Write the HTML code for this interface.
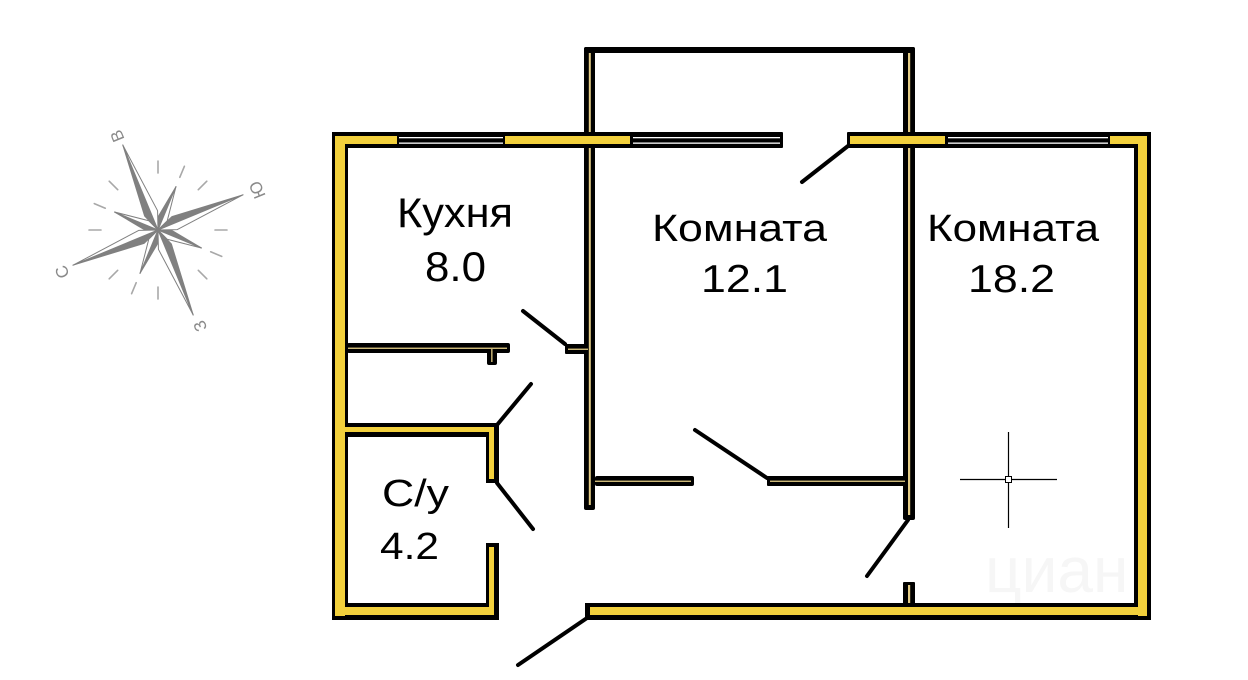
<!DOCTYPE html>
<html><head><meta charset="utf-8">
<style>html,body{margin:0;padding:0;background:#fff;}svg{display:block}</style>
</head>
<body>
<svg width="1248" height="680" viewBox="0 0 1248 680" xmlns="http://www.w3.org/2000/svg">
<rect width="1248" height="680" fill="#fff"/>

<!-- faint watermark -->
<text x="985" y="592" font-family="Liberation Sans, sans-serif" font-size="64" fill="#f6f6f6">циан</text>

<!-- thin walls -->
<g fill="#000">
  <rect x="584" y="47" width="331" height="6" rx="2"/>
  <rect x="584" y="47" width="11" height="463" rx="2"/>
  <rect x="903" y="47" width="12" height="473" rx="2"/>
  <rect x="903" y="582" width="12" height="25" rx="1"/>
  <rect x="347" y="343" width="163" height="10" rx="2"/>
  <rect x="487" y="343" width="10" height="22" rx="2"/>
  <rect x="565" y="344" width="30" height="10" rx="1"/>
  <rect x="595" y="476" width="99" height="10" rx="2"/>
  <rect x="767" y="476" width="140" height="10" rx="1"/>
</g>
<g fill="#e3cc86">
  <rect x="588.8" y="53" width="2" height="452"/>
  <rect x="908" y="53" width="2.2" height="462"/>
  <rect x="908" y="585" width="2.2" height="20"/>
  <rect x="347" y="347.6" width="160" height="1.3"/>
  <rect x="491.2" y="349" width="1.3" height="13"/>
  <rect x="568" y="348.6" width="20" height="1.3"/>
  <rect x="595" y="480.6" width="96" height="1.3"/>
  <rect x="770" y="480.6" width="135" height="1.3"/>
</g>

<!-- thick walls -->
<g fill="#000">
  <rect x="332" y="132" width="451" height="16" rx="1"/>
  <rect x="847" y="132" width="304" height="16" rx="1"/>
  <rect x="332" y="132" width="16" height="488"/>
  <rect x="1134" y="132" width="17" height="488"/>
  <rect x="585" y="603" width="566" height="17"/>
  <rect x="332" y="603" width="167" height="17"/>
  <rect x="347" y="423" width="152" height="14"/>
  <rect x="486" y="423" width="13" height="60"/>
  <rect x="486" y="543" width="13" height="77"/>
</g>
<g fill="#f2d03c">
  <rect x="335" y="136" width="62" height="8"/>
  <rect x="505" y="136" width="125" height="8"/>
  <rect x="850" y="136" width="95" height="8"/>
  <rect x="1110" y="136" width="37" height="8"/>
  <rect x="335" y="136" width="10" height="480"/>
  <rect x="1138" y="136" width="9" height="480"/>
  <rect x="590" y="607" width="557" height="8"/>
  <rect x="335" y="607" width="159" height="8"/>
  <rect x="345" y="427" width="149" height="5"/>
  <rect x="489" y="427" width="5" height="52"/>
  <rect x="489" y="547" width="5" height="68"/>
</g>

<!-- windows: double white lines -->
<g fill="#fff">
  <rect x="399" y="137" width="104" height="1.3"/>
  <rect x="399" y="142.5" width="104" height="1.3"/>
  <rect x="633" y="137" width="147" height="1.3"/>
  <rect x="633" y="142.5" width="147" height="1.3"/>
  <rect x="948" y="137" width="160" height="1.3"/>
  <rect x="948" y="142.5" width="160" height="1.3"/>
</g>

<!-- door leaves -->
<g stroke="#000" stroke-width="4" stroke-linecap="round" fill="none">
  <line x1="848" y1="146" x2="802" y2="182"/>
  <line x1="565" y1="344" x2="523" y2="311"/>
  <line x1="497" y1="425" x2="531" y2="384"/>
  <line x1="497" y1="483" x2="533" y2="529"/>
  <line x1="767" y1="478" x2="695" y2="430"/>
  <line x1="908" y1="520" x2="867" y2="576"/>
  <line x1="587" y1="618" x2="518" y2="665"/>
</g>

<!-- crosshair -->
<g stroke="#000" stroke-width="1.2">
  <line x1="960" y1="479.5" x2="1057" y2="479.5"/>
  <line x1="1008.5" y1="432" x2="1008.5" y2="528"/>
</g>
<rect x="1005.5" y="476.5" width="6" height="6" fill="#fff" stroke="#000" stroke-width="1"/>

<!-- labels -->
<g font-family="Liberation Sans, Arial, sans-serif" fill="#000">
  <text x="397" y="227" font-size="42" textLength="116" lengthAdjust="spacingAndGlyphs">Кухня</text>
  <text x="425" y="281" font-size="42" textLength="61" lengthAdjust="spacingAndGlyphs">8.0</text>
  <text x="652" y="241" font-size="38" textLength="175" lengthAdjust="spacingAndGlyphs">Комната</text>
  <text x="701" y="292" font-size="39" textLength="87" lengthAdjust="spacingAndGlyphs">12.1</text>
  <text x="927" y="241" font-size="38" textLength="172" lengthAdjust="spacingAndGlyphs">Комната</text>
  <text x="968" y="292" font-size="39" textLength="87" lengthAdjust="spacingAndGlyphs">18.2</text>
  <text x="382" y="506" font-size="38" textLength="67" lengthAdjust="spacingAndGlyphs">С/у</text>
  <text x="380" y="559" font-size="38" textLength="59" lengthAdjust="spacingAndGlyphs">4.2</text>
</g>

<!-- compass ticks -->
<g stroke="#a8a8a8" stroke-width="1.6" stroke-linecap="round">
  <line x1="158" y1="173" x2="158" y2="161"/>
  <line x1="179.8" y1="177.3" x2="184.4" y2="166.3"/>
  <line x1="198.3" y1="189.7" x2="206.8" y2="181.2"/>
  <line x1="215" y1="230" x2="227" y2="230"/>
  <line x1="210.7" y1="251.8" x2="221.7" y2="256.4"/>
  <line x1="198.3" y1="270.3" x2="206.8" y2="278.8"/>
  <line x1="158" y1="287" x2="158" y2="299"/>
  <line x1="136.2" y1="282.7" x2="131.6" y2="293.7"/>
  <line x1="117.7" y1="270.3" x2="109.2" y2="278.8"/>
  <line x1="101" y1="230" x2="89" y2="230"/>
  <line x1="105.3" y1="208.2" x2="94.3" y2="203.6"/>
  <line x1="117.7" y1="189.7" x2="109.2" y2="181.2"/>
</g>

<!-- compass rose -->
<g transform="translate(158,230) rotate(-22.5)" stroke="#808080" stroke-width="1" stroke-linejoin="round">
  <g transform="rotate(45)"><polygon points="0,0 47,0 12,-5" fill="#808080"/><polygon points="0,0 47,0 12,5" fill="#fff"/></g>
  <g transform="rotate(135)"><polygon points="0,0 47,0 12,-5" fill="#808080"/><polygon points="0,0 47,0 12,5" fill="#fff"/></g>
  <g transform="rotate(225)"><polygon points="0,0 47,0 12,-5" fill="#808080"/><polygon points="0,0 47,0 12,5" fill="#fff"/></g>
  <g transform="rotate(315)"><polygon points="0,0 47,0 12,-5" fill="#808080"/><polygon points="0,0 47,0 12,5" fill="#fff"/></g>
  <g transform="rotate(0)"><polygon points="0,0 92,0 18,-7" fill="#808080"/><polygon points="0,0 92,0 18,7" fill="#fff"/></g>
  <g transform="rotate(90)"><polygon points="0,0 92,0 18,-7" fill="#808080"/><polygon points="0,0 92,0 18,7" fill="#fff"/></g>
  <g transform="rotate(180)"><polygon points="0,0 92,0 18,-7" fill="#808080"/><polygon points="0,0 92,0 18,7" fill="#fff"/></g>
  <g transform="rotate(270)"><polygon points="0,0 92,0 18,-7" fill="#808080"/><polygon points="0,0 92,0 18,7" fill="#fff"/></g>
</g>

<!-- compass letters -->
<g font-family="Liberation Sans, sans-serif" font-size="17" fill="#8a8a8a" text-anchor="middle">
  <text transform="translate(117,136) rotate(-112.5)" dy="6">В</text>
  <text transform="translate(257,190) rotate(-112.5)" dy="6">Ю</text>
  <text transform="translate(62,272) rotate(-112.5)" dy="6">С</text>
  <text transform="translate(200,326) rotate(-112.5)" dy="6">З</text>
</g>
</svg>
</body></html>
